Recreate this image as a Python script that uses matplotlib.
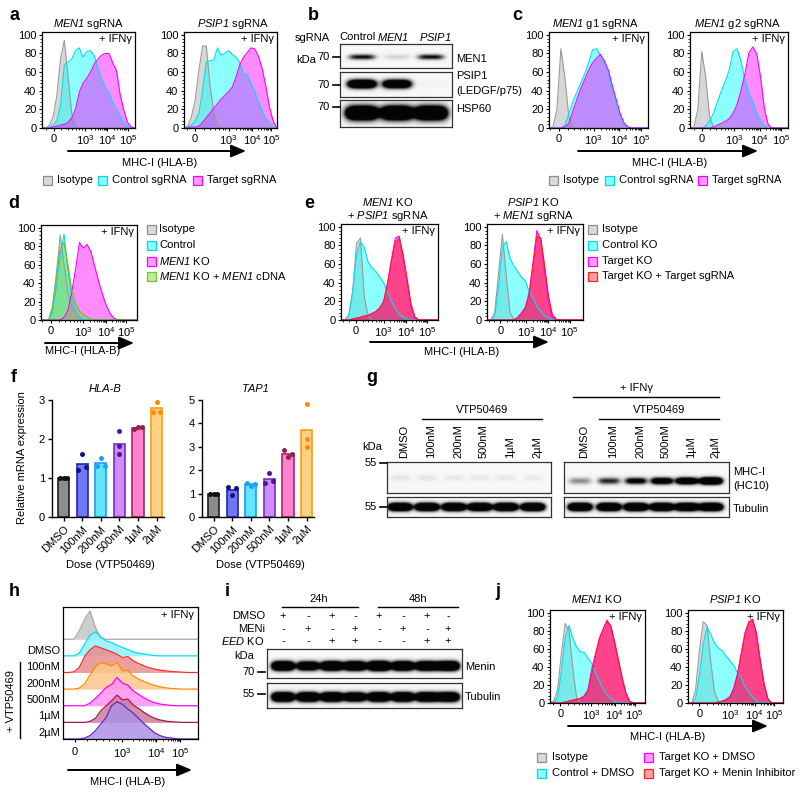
import numpy as np
import matplotlib
matplotlib.use("Agg")
import matplotlib.pyplot as plt
from matplotlib.patches import Rectangle, FancyArrowPatch
from matplotlib.lines import Line2D
from matplotlib.ticker import MultipleLocator

plt.rcParams["font.family"] = ["Liberation Sans", "DejaVu Sans"]
plt.rcParams["mathtext.fontset"] = "custom"
plt.rcParams["mathtext.rm"] = "Liberation Sans"
plt.rcParams["mathtext.it"] = "Liberation Sans:italic"
# \mathsf is used for italic gene names so that digits are slanted too
plt.rcParams["mathtext.sf"] = "Liberation Sans:italic"
plt.rcParams["mathtext.bf"] = "Liberation Sans:bold"
plt.rcParams["font.size"] = 8
plt.rcParams["axes.linewidth"] = 0.9

# --- flow histograms (% of mode), read every 0.04 of the axis width ---
U = np.linspace(0, 1, 26)

A1_ISO = [0, 0, 3, 12, 35, 75, 94, 55, 15, 3, 0, 0, 0, 0, 0, 0, 0, 0, 0, 0, 0, 0, 0, 0, 0, 0]
A1_CTRL = [0, 0, 1, 3, 8, 25, 68, 71, 74, 83, 86, 76, 82, 83, 78, 65, 52, 44, 37, 28, 20, 13, 6, 2, 0, 0]
A1_TGT = [0, 0, 0, 1, 2, 3, 4, 6, 11, 20, 38, 48, 53, 60, 68, 74, 78, 80, 80, 70, 62, 36, 19, 6, 1, 0]
A2_ISO = [0, 2, 12, 30, 62, 88, 88, 45, 18, 4, 0, 0, 0, 0, 0, 0, 0, 0, 0, 0, 0, 0, 0, 0, 0, 0]
A2_CTRL = [0, 1, 3, 8, 16, 40, 71, 72, 73, 86, 78, 80, 83, 79, 76, 70, 58, 57, 48, 40, 28, 19, 10, 5, 1, 0]
A2_TGT = [0, 0, 1, 1, 2, 6, 11, 16, 21, 26, 31, 35, 39, 44, 55, 68, 76, 81, 86, 85, 77, 64, 45, 22, 7, 0]

C1_ISO = [0, 1, 20, 85, 55, 12, 1, 0, 0, 0, 0, 0, 0, 0, 0, 0, 0, 0, 0, 0, 0, 0, 0, 0, 0, 0]
C1_CTRL = [0, 0, 0, 0, 3, 15, 28, 38, 48, 58, 70, 84, 85, 78, 70, 58, 40, 25, 12, 3, 0, 0, 0, 0, 0, 0]
C1_TGT = [0, 0, 0, 0, 1, 5, 18, 30, 42, 52, 62, 70, 75, 79, 72, 62, 45, 30, 15, 5, 1, 0, 0, 0, 0, 0]
C2_ISO = [0, 1, 20, 82, 55, 12, 1, 0, 0, 0, 0, 0, 0, 0, 0, 0, 0, 0, 0, 0, 0, 0, 0, 0, 0, 0]
C2_CTRL = [0, 0, 0, 0, 2, 8, 16, 28, 40, 50, 62, 82, 85, 72, 52, 38, 28, 16, 8, 2, 0, 0, 0, 0, 0, 0]
C2_TGT = [0, 0, 0, 0, 0, 0, 1, 3, 5, 7, 10, 16, 25, 40, 58, 80, 87, 80, 55, 20, 3, 0, 0, 0, 0, 0]

D_ISO = [0, 0, 0, 15, 50, 92, 60, 30, 15, 6, 2, 0, 0, 0, 0, 0, 0, 0, 0, 0, 0, 0, 0, 0, 0, 0]
D_CTRL = [0, 0, 0, 8, 35, 68, 93, 55, 25, 10, 4, 1, 0, 0, 0, 0, 0, 0, 0, 0, 0, 0, 0, 0, 0, 0]
D_TGT = [0, 0, 0, 0, 0, 0, 3, 10, 30, 55, 84, 78, 82, 74, 58, 42, 28, 16, 7, 2, 0, 0, 0, 0, 0, 0]
D_RESC = [0, 0, 0, 12, 45, 78, 84, 60, 32, 18, 10, 6, 3, 1, 0, 0, 0, 0, 0, 0, 0, 0, 0, 0, 0, 0]

E1_ISO = [0, 0, 5, 30, 82, 88, 25, 4, 0, 0, 0, 0, 0, 0, 0, 0, 0, 0, 0, 0, 0, 0, 0, 0, 0, 0]
E1_CTRL = [0, 0, 5, 30, 70, 84, 78, 62, 56, 52, 46, 40, 30, 20, 12, 6, 3, 1, 0, 0, 0, 0, 0, 0, 0, 0]
E1_TGT = [0, 0, 0, 1, 2, 3, 4, 5, 7, 9, 13, 20, 40, 65, 88, 90, 68, 42, 14, 2, 0, 0, 0, 0, 0, 0]
E1_BOTH = [0, 0, 0, 1, 2, 3, 4, 5, 7, 9, 13, 20, 38, 62, 84, 88, 70, 45, 18, 4, 0, 0, 0, 0, 0, 0]
E2_ISO = [0, 0, 8, 50, 92, 48, 8, 1, 0, 0, 0, 0, 0, 0, 0, 0, 0, 0, 0, 0, 0, 0, 0, 0, 0, 0]
E2_CTRL = [0, 0, 4, 35, 78, 84, 66, 58, 52, 46, 42, 30, 24, 14, 9, 4, 2, 0, 0, 0, 0, 0, 0, 0, 0, 0]
E2_TGT = [0, 0, 0, 0, 0, 0, 0, 0, 3, 8, 14, 30, 62, 96, 86, 52, 20, 3, 0, 0, 0, 0, 0, 0, 0, 0]
E2_BOTH = [0, 0, 0, 0, 0, 0, 0, 0, 2, 6, 12, 27, 58, 90, 88, 58, 26, 6, 1, 0, 0, 0, 0, 0, 0, 0]

J1_ISO = [0, 2, 15, 55, 88, 80, 38, 6, 0, 0, 0, 0, 0, 0, 0, 0, 0, 0, 0, 0, 0, 0, 0, 0, 0, 0]
J1_CTRL = [0, 0, 6, 35, 72, 86, 72, 62, 57, 56, 50, 44, 33, 24, 15, 9, 5, 2, 0, 0, 0, 0, 0, 0, 0, 0]
J1_DMSO = [0, 0, 0, 0, 1, 2, 3, 4, 5, 8, 15, 38, 55, 72, 82, 92, 84, 66, 46, 26, 10, 1, 0, 0, 0, 0]
J1_MENI = [0, 0, 0, 0, 1, 2, 3, 4, 5, 7, 12, 32, 52, 70, 82, 90, 86, 68, 48, 28, 11, 2, 0, 0, 0, 0]
J2_ISO = [0, 0, 15, 58, 90, 86, 45, 12, 2, 0, 0, 0, 0, 0, 0, 0, 0, 0, 0, 0, 0, 0, 0, 0, 0, 0]
J2_CTRL = [0, 0, 5, 30, 65, 84, 76, 66, 61, 58, 52, 47, 42, 34, 28, 18, 12, 6, 2, 0, 0, 0, 0, 0, 0, 0]
J2_DMSO = [0, 0, 0, 0, 0, 0, 0, 0, 1, 2, 4, 7, 16, 32, 55, 78, 90, 93, 75, 45, 20, 4, 0, 0, 0, 0]
J2_MENI = [0, 0, 0, 0, 0, 0, 0, 0, 1, 2, 3, 6, 14, 30, 52, 76, 88, 92, 78, 48, 22, 5, 0, 0, 0, 0]

# ridgeline (panel h), heights in row units, top row first
H_ROWS = ["", "DMSO", "100nM", "200nM", "500nM", "1µM", "2µM"]
H_CURVES = [
    [0, 0, 0, 25, 60, 85, 35, 4, 0, 0, 0, 0, 0, 0, 0, 0, 0, 0, 0, 0, 0, 0, 0, 0, 0, 0],
    [0, 0, 0, 8, 35, 62, 72, 58, 45, 40, 32, 25, 19, 12, 8, 6, 3, 1, 0, 0, 0, 0, 0, 0, 0, 0],
    [0, 0, 2, 15, 48, 68, 80, 74, 68, 62, 55, 45, 48, 35, 27, 20, 14, 10, 7, 5, 3, 2, 1, 0, 0, 0],
    [0, 0, 0, 3, 16, 42, 68, 80, 76, 70, 80, 55, 56, 40, 30, 23, 16, 11, 7, 4, 2, 1, 0, 0, 0, 0],
    [0, 0, 0, 0, 0, 8, 22, 38, 55, 64, 85, 68, 62, 45, 34, 24, 15, 9, 5, 3, 1, 0, 0, 0, 0, 0],
    [0, 0, 0, 0, 0, 3, 12, 35, 50, 65, 82, 68, 70, 52, 42, 30, 20, 12, 7, 4, 2, 1, 0, 0, 0, 0],
    [0, 0, 0, 0, 3, 10, 25, 45, 65, 100, 112, 104, 90, 78, 62, 46, 32, 18, 10, 5, 3, 1, 0, 0, 0, 0],
]
H_FILL = ["#c6c6c6", "#8ff2fa", "#e98e8e", "#ffc68c", "#ff92f0", "#cc7c9c", "#ae90e4"]
H_EDGE = ["#a8a8a8", "#00e0f0", "#ff2a2a", "#ff8c00", "#ff00ff", "#a4184e", "#6428c0"]

# --- qPCR (panel f) ---
DOSES = ["DMSO", "100nM", "200nM", "500nM", "1µM", "2µM"]
HLAB_REPS = [[1.0, 1.0, 1.0], [1.2, 1.62, 1.28], [1.3, 1.52, 1.3],
             [2.2, 1.82, 1.62], [2.25, 2.3, 2.3], [2.7, 2.95, 2.7]]
TAP1_REPS = [[1.0, 1.0, 1.0], [1.27, 0.94, 1.23], [1.47, 1.32, 1.41],
             [1.45, 1.87, 1.55], [2.86, 2.56, 2.69], [4.83, 3.33, 3.0]]
BAR_FC = ["#8c8c8c", "#6f78f2", "#62e6ff", "#d08cf8", "#ff82d0", "#ffd283"]
BAR_EC = ["#1e1e1e", "#2424b0", "#1c9cff", "#7a2cc8", "#a8285a", "#ff9a12"]
DOT_C = ["#111111", "#12127e", "#1aa2ff", "#4a1a92", "#922052", "#ff8c00"]

# --- blot band strengths (1 = just saturated) ---
B_MEN1 = [1.0, 0.15, 1.0]
B_PSIP1 = [2.6, 2.4, 0.02]
B_HSP60 = [3.0, 3.0, 3.0]
G_LANES = ["DMSO", "100nM", "200nM", "500nM", "1µM", "2µM"]
G_MHC_NO = [0.08, 0.08, 0.07, 0.07, 0.07, 0.06]
G_MHC_IFN = [0.45, 0.9, 1.3, 1.8, 2.2, 3.0]
G_TUB_NO = [3.0, 3.0, 3.0, 3.0, 3.0, 3.0]
G_TUB_IFN = [3.0, 3.0, 3.0, 3.0, 3.0, 3.0]
I_DMSO = ["+", "-", "+", "-", "+", "-", "+", "-"]
I_MENI = ["-", "+", "-", "+", "-", "+", "-", "+"]
I_EED = ["-", "-", "+", "+", "-", "-", "+", "+"]
I_MENIN = [3.0, 2.4, 3.0, 3.0, 3.5, 3.0, 3.0, 3.2]
I_TUB = [3.0, 3.0, 3.0, 2.6, 3.0, 3.0, 3.0, 3.0]

W, H = 800, 793
fig = plt.figure(figsize=(8, 7.93), dpi=100)
fig.patch.set_facecolor("white")


def rect(x0, y0, x1, y1):
    return [x0 / W, 1 - y1 / H, (x1 - x0) / W, (y1 - y0) / H]


def txt(x, y, s, **kw):
    kw.setdefault("ha", "center")
    kw.setdefault("va", "center")
    fig.text(x / W, 1 - y / H, s, **kw)


def hline(x0, x1, y, lw=1.0):
    fig.add_artist(Line2D([x0 / W, x1 / W], [1 - y / H, 1 - y / H],
                          transform=fig.transFigure, color="k", lw=lw))


def arrow(x0, x1, y):
    fig.add_artist(FancyArrowPatch((x0 / W, 1 - y / H), (x1 / W, 1 - y / H),
                                   transform=fig.transFigure, color="k", lw=1.4,
                                   arrowstyle="-|>,head_length=0.9,head_width=0.38",
                                   mutation_scale=10, shrinkA=0, shrinkB=0))


STY = {
    "iso": ("#bdbdbd", "#9b9b9b", 0.6),
    "ctrl": ("#00ffff", "#00dff0", 0.45),
    "tgt": ("#ff00ff", "#ff00ff", 0.45),
    "red": ("#ff0a2a", "#ff1a1a", 0.55),
    "green": ("#86d93a", "#6cc22a", 0.5),
}
SW = {"iso": ("#d9d9d9", "#8f8f8f"), "ctrl": ("#8cffff", "#00d8ea"),
      "tgt": ("#ff9cff", "#ff00ff"), "red": ("#f7a0a6", "#ff2020"),
      "green": ("#c4eb9a", "#72c23a")}


def swatch(x, y, key, label, gap=14):
    fc, ec = SW[key]
    fig.add_artist(Rectangle((x / W, 1 - (y + 4.5) / H), 9 / W, 9 / H,
                             transform=fig.transFigure, fc=fc, ec=ec, lw=0.9))
    txt(x + gap, y, label, ha="left")


def minor_x(t):
    t0, t3, t4, t5 = t
    pos = [t0 + (t3 - t0) * f for f in (-0.45, -0.25, 0.25, 0.45, 0.6, 0.72, 0.82, 0.9)]
    for a, b in ((t3, t4), (t4, t5)):
        pos += [a + (b - a) * np.log10(k) for k in range(2, 10)]
    return [p for p in pos if 0 < p < 1]


def flow(box, curves, keys, ticks):
    ax = fig.add_axes(rect(*box))
    for vals, k in zip(curves, keys):
        fc, ec, a = STY[k]
        ax.fill_between(U, vals, color=fc, alpha=a, lw=0)
        ax.plot(U, vals, color=ec, lw=0.8)
    ax.set_xlim(0, 1)
    ax.set_ylim(0, 103)
    ax.set_yticks([0, 20, 40, 60, 80, 100])
    ax.yaxis.set_minor_locator(MultipleLocator(4))
    ax.set_xticks(ticks)
    ax.set_xticklabels(["0", "$10^3$", "$10^4$", "$10^5$"])
    ax.set_xticks(minor_x(ticks), minor=True)
    ax.tick_params(length=2.5, width=0.8, pad=1.5, labelsize=8)
    ax.tick_params(which="minor", length=1.3, width=0.6)
    ax.text(0.97, 0.975, "+ IFNγ", transform=ax.transAxes, ha="right", va="top")
    return ax


def blot(box, lanes, levels, band_y, band_h, band_w):
    x0, y0, x1, y1 = box
    ax = fig.add_axes(rect(*box))
    X, Y = np.meshgrid(np.linspace(x0, x1, int((x1 - x0) * 3)),
                       np.linspace(y0, y1, int((y1 - y0) * 3)))
    dark = np.zeros_like(X)
    for cx, lv in zip(lanes, levels):
        dark += lv * np.exp(-((X - cx) / band_w) ** 4) * np.exp(-((Y - band_y) / band_h) ** 2)
    img = 0.97 - 0.95 * np.clip(dark, 0, 1)
    ax.imshow(img, cmap="gray", vmin=0, vmax=1, extent=(x0, x1, y1, y0),
              aspect="auto", interpolation="bilinear")
    ax.set_xlim(x0, x1)
    ax.set_ylim(y1, y0)
    ax.set_xticks([])
    ax.set_yticks([])
    for s in ax.spines.values():
        s.set_color("#333333")
        s.set_linewidth(0.9)
    return ax


def kda(x, y, s):
    txt(x - 3, y, s, ha="right")
    hline(x, x + 7, y, lw=1.2)


# panel letters
for lab, (x, y) in zip("abcdefghij", [(14, 15), (313, 15), (517, 15), (14, 204), (309, 204),
                                    (14, 377), (372, 377), (14, 592), (227, 592), (498, 592)]):
    txt(x, y, lab, fontsize=13, fontweight="bold")

# ---- a ----
flow((42, 32, 135, 128), [A1_ISO, A1_CTRL, A1_TGT], ["iso", "ctrl", "tgt"], [0.125, 0.46, 0.70, 0.93])
flow((184, 32, 277, 128), [A2_ISO, A2_CTRL, A2_TGT], ["iso", "ctrl", "tgt"], [0.12, 0.48, 0.73, 0.94])
txt(89, 24, r"$\mathsf{MEN1}$ sgRNA")
txt(233, 24, r"$\mathsf{PSIP1}$ sgRNA")
arrow(68, 246, 151)
txt(160, 163, "MHC-I (HLA-B)")
swatch(43, 180, "iso", "Isotype")
swatch(98, 180, "ctrl", "Control sgRNA")
swatch(193, 180, "tgt", "Target sgRNA")

# ---- b ----
b_lanes = [362, 397, 431]
blot((340, 44, 452, 68), b_lanes, B_MEN1, 57, 2.6, 13)
blot((340, 72, 452, 97), b_lanes, B_PSIP1, 84, 4.0, 14)
blot((340, 100, 452, 127), b_lanes, B_HSP60, 113, 6.5, 16)
txt(312, 38, "sgRNA")
txt(306, 60, "kDa")
for y in (57, 85, 107):
    kda(333, y, "70")
txt(358, 37, "Control")
txt(393, 37, r"$\mathsf{MEN1}$")
txt(435, 37, r"$\mathsf{PSIP1}$")
txt(456, 59, "MEN1", ha="left")
txt(456, 76, "PSIP1", ha="left")
txt(456, 91, "(LEDGF/p75)", ha="left")
txt(456, 109, "HSP60", ha="left")

# ---- c ----
flow((549, 32, 648, 128), [C1_ISO, C1_CTRL, C1_TGT], ["iso", "ctrl", "tgt"], [0.10, 0.45, 0.71, 0.93])
flow((690, 32, 788, 128), [C2_ISO, C2_CTRL, C2_TGT], ["iso", "ctrl", "tgt"], [0.12, 0.45, 0.71, 0.93])
txt(595, 24, r"$\mathsf{MEN1}$ g1 sgRNA")
txt(737, 24, r"$\mathsf{MEN1}$ g2 sgRNA")
arrow(578, 758, 151)
txt(670, 163, "MHC-I (HLA-B)")
swatch(549, 180, "iso", "Isotype")
swatch(605, 180, "ctrl", "Control sgRNA")
swatch(698, 180, "tgt", "Target sgRNA")

# ---- d ----
flow((41, 225, 137, 320), [D_ISO, D_CTRL, D_TGT, D_RESC], ["iso", "ctrl", "tgt", "green"],
     [0.10, 0.44, 0.68, 0.89])
arrow(45, 134, 343)
txt(83, 351, "MHC-I (HLA-B)")
for y, k, s in zip([229, 245, 261, 276], ["iso", "ctrl", "tgt", "green"],
                   ["Isotype", "Control", r"$\mathsf{MEN1}$ KO",
                    r"$\mathsf{MEN1}$ KO + $\mathsf{MEN1}$ cDNA"]):
    swatch(147, y, k, s, gap=12)

# ---- e ----
flow((341, 224, 438, 320), [E1_ISO, E1_CTRL, E1_TGT, E1_BOTH], ["iso", "ctrl", "tgt", "red"],
     [0.15, 0.44, 0.67, 0.89])
flow((487, 224, 583, 320), [E2_ISO, E2_CTRL, E2_TGT, E2_BOTH], ["iso", "ctrl", "tgt", "red"],
     [0.14, 0.41, 0.64, 0.86])
txt(388, 202, r"$\mathsf{MEN1}$ KO")
txt(388, 216, r"+ $\mathsf{PSIP1}$ sgRNA")
txt(533, 202, r"$\mathsf{PSIP1}$ KO")
txt(533, 216, r"+ $\mathsf{MEN1}$ sgRNA")
arrow(370, 549, 342)
txt(462, 352, "MHC-I (HLA-B)")
for y, k, s in zip([229, 245, 261, 276], ["iso", "ctrl", "tgt", "red"],
                   ["Isotype", "Control KO", "Target KO", "Target KO + Target sgRNA"]):
    swatch(588, y, k, s)

# ---- f ----
def bars(box, reps, ymax, title, spread):
    ax = fig.add_axes(rect(*box))
    x = np.arange(len(DOSES))
    ax.bar(x, [np.mean(r) for r in reps], width=0.6, color=BAR_FC, edgecolor=BAR_EC,
           linewidth=1.2, zorder=2)
    for i, r in enumerate(reps):
        s = spread[i]
        ax.scatter(x[i] + np.array([-s, 0, s]), r, s=13, color=DOT_C[i], lw=0,
                   zorder=3, clip_on=False)
    ax.set_xlim(-0.62, 5.4)
    ax.set_ylim(0, ymax)
    ax.set_yticks(range(ymax + 1))
    ax.set_xticks(x)
    ax.set_xticklabels(DOSES, rotation=45, ha="right", rotation_mode="anchor")
    ax.spines[["top", "right"]].set_visible(False)
    ax.spines[["left", "bottom"]].set_linewidth(1.0)
    ax.tick_params(length=3, width=1.0, pad=2, labelsize=8)
    cx = (box[0] + box[2]) / 2
    txt(cx - 3, 389, title, style="italic")
    txt(cx + 2, 565, "Dose (VTP50469)")


bars((52, 400, 164, 517), HLAB_REPS, 3, "HLA-B", [0.21, 0.21, 0.21, 0, 0.21, 0.21])
bars((202, 400, 314, 517), TAP1_REPS, 5, "TAP1", [0.21, 0.21, 0.21, 0.21, 0.21, 0])
txt(22, 458, "Relative mRNA expression", rotation=90)

# ---- g ----
g_left = [400, 427, 454, 480, 506, 533]
g_right = [580, 609, 636, 662, 687, 711]
blot((387, 462, 551, 493), g_left, G_MHC_NO, 478, 3.0, 10)
blot((387, 497, 551, 517), g_left, G_TUB_NO, 507, 3.6, 11.5)
blot((564, 462, 729, 493), g_right, G_MHC_IFN, 481, 3.2, 11)
blot((564, 497, 729, 517), g_right, G_TUB_IFN, 507, 3.6, 11.5)
txt(372, 447, "kDa")
kda(380, 463, "55")
kda(380, 507, "55")
for lanes in (g_left, g_right):
    for x, s in zip(lanes, G_LANES):
        txt(x + 4, 458, s, rotation=90, va="bottom")
hline(422, 542, 419)
txt(482, 410, "VTP50469")
hline(599, 719, 419)
txt(659, 410, "VTP50469")
hline(573, 719, 397)
txt(637, 388, "+ IFNγ")
txt(733, 472, "MHC-I", ha="left")
txt(733, 486, "(HC10)", ha="left")
txt(733, 509, "Tubulin", ha="left")

# ---- h ----
axh = fig.add_axes(rect(63, 607, 198, 739))
base = np.arange(len(H_CURVES) - 1, -1, -1) * 50
for b, vals, fc, ec in zip(base, H_CURVES, H_FILL, H_EDGE):
    axh.fill_between(U, b, b + np.array(vals), color=fc, alpha=0.85, lw=0)
    axh.plot(U, b + np.array(vals), color=ec, lw=0.9)
h_ticks = [0.086, 0.44, 0.69, 0.87]
axh.set_xlim(0, 1)
axh.set_ylim(0, 397)
axh.set_yticks([])
axh.set_xticks(h_ticks)
axh.set_xticklabels(["0", "$10^3$", "$10^4$", "$10^5$"])
axh.set_xticks(minor_x(h_ticks), minor=True)
axh.tick_params(length=2.5, width=0.8, pad=3, labelsize=8)
axh.tick_params(which="minor", length=1.3, width=0.6)
axh.text(0.97, 0.98, "+ IFNγ", transform=axh.transAxes, ha="right", va="top")
for y, s in zip([651, 667, 684, 700, 716, 733], H_ROWS[1:]):
    txt(60, y, s, ha="right")
fig.add_artist(Line2D([20 / W, 20 / W], [1 - 662 / H, 1 - 738 / H],
                      transform=fig.transFigure, color="k", lw=1.0))
txt(11, 701, "+ VTP50469", rotation=90)
arrow(68, 192, 770)
txt(128, 782, "MHC-I (HLA-B)")

# ---- i ----
i_lanes = [283, 308, 332, 355, 379, 403, 427, 448]
txt(319, 599, "24h")
hline(282, 358, 607)
txt(418, 599, "48h")
hline(378, 458, 607)
for y, s, row in zip([616, 629, 641], ["DMSO", "MENi", r"$\mathsf{EED}$ KO"],
                     [I_DMSO, I_MENI, I_EED]):
    txt(265, y, s, ha="right")
    for x, m in zip(i_lanes, row):
        txt(x, y, m)
blot((267, 649, 462, 678), i_lanes, I_MENIN, 666, 4.2, 11)
blot((267, 683, 462, 708), i_lanes, I_TUB, 697, 4.2, 11)
txt(244, 656, "kDa")
kda(258, 672, "70")
kda(258, 694, "55")
txt(465, 667, "Menin", ha="left")
txt(465, 697, "Tubulin", ha="left")

# ---- j ----
flow((550, 610, 645, 703), [J1_ISO, J1_CTRL, J1_DMSO, J1_MENI], ["iso", "ctrl", "tgt", "red"],
     [0.11, 0.43, 0.68, 0.89])
flow((688, 610, 783, 703), [J2_ISO, J2_CTRL, J2_DMSO, J2_MENI], ["iso", "ctrl", "tgt", "red"],
     [0.12, 0.44, 0.70, 0.91])
txt(597, 599, r"$\mathsf{MEN1}$ KO")
txt(735, 599, r"$\mathsf{PSIP1}$ KO")
arrow(568, 768, 726)
txt(668, 737, "MHC-I (HLA-B)")
swatch(537, 757, "iso", "Isotype", gap=15)
swatch(644, 757, "tgt", "Target KO + DMSO", gap=15)
swatch(537, 773, "ctrl", "Control + DMSO", gap=15)
swatch(644, 773, "red", "Target KO + Menin Inhibitor", gap=15)

fig.savefig("out.png", dpi=100)
